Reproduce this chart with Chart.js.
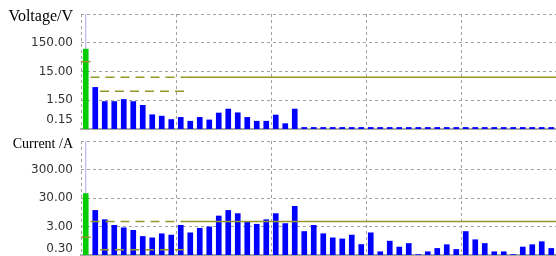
<!DOCTYPE html>
<html>
<head>
<meta charset="utf-8">
<script src="https://cdn.jsdelivr.net/npm/chart.js@4.4.1/dist/chart.umd.min.js"></script>
<style>
body { margin: 0; background: #fff; }
#wrap { position: relative; width: 556px; height: 256px; overflow: hidden; }
canvas { position: absolute; left: 0; }
.ttl { position: absolute; left: 0; width: 73px; text-align: right; white-space: nowrap;
       font-family: "Liberation Serif", serif; color: #000; }
</style>
</head>
<body>
<div id="wrap">
  <canvas id="voltChart" width="556" height="131" style="top:0"></canvas>
  <canvas id="currChart" width="556" height="126" style="top:130px"></canvas>
  <div class="ttl" style="top:8px;font-size:16px;line-height:16px">Voltage/V</div>
  <div class="ttl" style="top:137px;font-size:14px;line-height:14px">Current /A</div>
</div>
<script>
// harmonic order 1..50
const orders = [1,2,3,4,5,6,7,8,9,10,11,12,13,14,15,16,17,18,19,20,
                21,22,23,24,25,26,27,28,29,30,31,32,33,34,35,36,37,38,39,40,
                41,42,43,44,45,46,47,48,49,50];
const voltage = [90,4.2,1.35,1.35,1.6,1.35,1.0,0.47,0.42,0.32,
                 0.38,0.28,0.38,0.31,0.54,0.74,0.55,0.38,0.28,0.28,
                 0.46,0.23,0.74,0.17,0.17,0.17,0.17,0.17,0.17,0.17,
                 0.17,0.17,0.17,0.17,0.17,0.17,0.17,0.17,0.17,0.17,
                 0.17,0.17,0.17,0.17,0.17,0.17,0.17,0.17,0.17,0.17];
const current = [43,11,5.2,3.3,2.7,2.2,1.34,1.2,1.67,1.5,
                 3.3,1.8,2.6,2.9,7.0,11,8.5,4.4,3.6,5.2,
                 8.5,3.8,15.3,2.0,3.3,1.67,1.2,1.1,1.5,0.7,
                 1.8,0.39,0.92,0.57,0.76,0.31,0.39,0.51,0.69,0.47,
                 2.0,1.03,0.76,0.39,0.39,0.31,0.57,0.69,0.88,0.51];
const voltTicks = [0.15, 1.5, 15, 150, 1500];
const currTicks = [0.3, 3, 30, 300, 3000];
const gridOrders = [0.5, 10.5, 20.5, 30.5, 40.5, 50.5];
// limit lines: order ranges and their values
const limitSpans = [[0.5, 1.5], [1.5, 11.5], [2.5, 11.5], [11.5, 50.5]];
const voltLimits = [33, 9.4, 3.1, 9.4];
const currLimits = [1.27, 4.5, 0.46, 4.5];

function draw_chart(canvasId, values, yTicks, limits, labelLineHeight, padTop, padBottom) {
    const ctx = document.getElementById(canvasId).getContext('2d');
    const last = yTicks.length - 1;
    var datasets = [];
    limits.forEach(function(val, i) {
        datasets.push({
            type: 'line',
            data: [{x: limitSpans[i][0], y: val}, {x: limitSpans[i][1], y: val}],
            borderColor: '#969628',
            borderWidth: 1.5,
            borderDash: (i === 1 || i === 2) ? [9, 6] : [],
            pointRadius: 0,
            order: 0
        });
    });
    datasets.push({
        type: 'bar',
        data: orders.map((o, i) => ({x: o, y: values[i]})),
        backgroundColor: values.map((v, i) => i === 0 ? '#00cc00' : '#0000ff'),
        barThickness: 5,
        order: 1
    });
    // cursor line
    datasets.push({
        type: 'line',
        data: [{x: orders[0], y: yTicks[0]}, {x: orders[0], y: yTicks[last]}],
        borderColor: '#a8a8f0',
        borderWidth: 1,
        pointRadius: 0,
        order: 2
    });

    return new Chart(ctx, {
        type: 'bar',
        data: { datasets: datasets },
        options: {
            responsive: false,
            animation: false,
            devicePixelRatio: 1,
            layout: { padding: { top: padTop, bottom: padBottom, left: 0, right: 0 } },
            plugins: { legend: { display: false }, tooltip: { enabled: false } },
            scales: {
                x: {
                    type: 'linear',
                    min: gridOrders[0],
                    max: gridOrders[gridOrders.length - 1],
                    offset: false,
                    afterBuildTicks: function(s) { s.ticks = gridOrders.map(v => ({value: v})); },
                    ticks: { display: false, autoSkip: false },
                    grid: { color: '#a0a0a0', drawTicks: false, offset: false },
                    border: { display: true, color: '#a8a8a8', width: 2, dash: [3, 3] }
                },
                y: {
                    type: 'logarithmic',
                    min: yTicks[0],
                    max: yTicks[last],
                    afterBuildTicks: function(s) { s.ticks = yTicks.map(v => ({value: v})); },
                    afterFit: function(s) { s.width = 81; s.paddingTop = 0; s.paddingBottom = 0; },
                    ticks: {
                        autoSkip: false,
                        padding: 8,
                        color: '#333',
                        font: { family: 'DejaVu Sans', size: 12, lineHeight: labelLineHeight },
                        callback: function(value, index) {
                            if (value === yTicks[last]) return '';
                            if (index === 0) return [value.toFixed(2), ''];
                            return value.toFixed(2);
                        }
                    },
                    grid: { color: '#a0a0a0', drawTicks: false },
                    border: { display: false, dash: [3, 3] }
                }
            }
        }
    });
}

var volt_chart = draw_chart('voltChart', voltage, voltTicks, voltLimits, 1.5, 14, 2);
var curr_chart = draw_chart('currChart', current, currTicks, currLimits, 1.1, 11, 1);
</script>
</body>
</html>
